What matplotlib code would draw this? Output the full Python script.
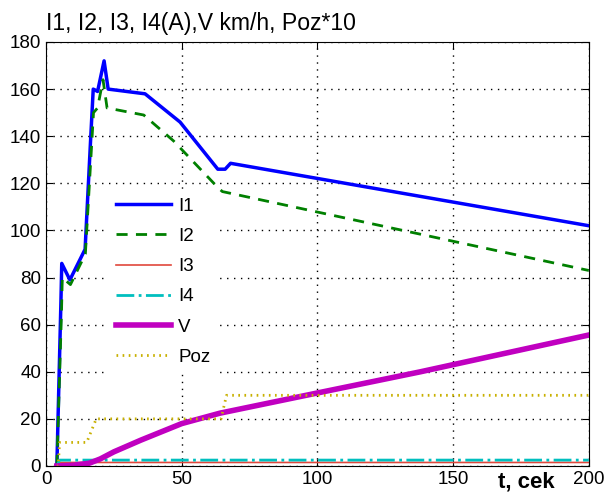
import matplotlib.pyplot as plt

plt.rcParams['font.family'] = ['Liberation Sans', 'DejaVu Sans']

# time points and values
t_i1 = [4.0, 5.5, 5.8, 8.8, 14.4, 16.5, 17.4, 19.0, 21.4, 22.9, 36.5, 49.4, 63.3, 66.0, 68.0, 200.0]
i1 = [0, 70, 86, 79, 92, 140, 160, 159, 172, 160, 158, 146, 126, 126, 128.5, 102]

t_i2 = [4.0, 5.7, 6.0, 9.0, 14.5, 17.5, 19.0, 21.0, 22.5, 36.0, 47.0, 63.5, 65.0, 200.0]
i2 = [0, 65, 80, 77, 90, 150, 152, 164, 152, 149, 138, 118, 116.5, 83]

t_i3 = [4.0, 5.0, 200.0]
i3 = [0, 1.5, 1.5]

t_i4 = [4.0, 5.0, 200.0]
i4 = [0, 2.5, 2.5]

t_v = [4.0, 10.0, 16.0, 20.0, 25.0, 35.0, 50.0, 64.0, 100.0, 138.0, 200.0]
v = [0, 0.3, 1.2, 3, 6, 11, 18, 22.4, 31, 40, 55.6]

t_poz = [4.0, 4.5, 5.0, 15.0, 18.5, 64.5, 66.5, 200.0]
poz = [0, 0, 10, 10, 20, 20, 30, 30]

fig = plt.figure(figsize=(6.07, 4.97), dpi=100)
ax = fig.add_axes([0.0758, 0.0624, 0.8942, 0.8531])

ax.plot(t_i1, i1, color='#0000ff', lw=2.5, label='I1')
ax.plot(t_i2, i2, color='#008000', lw=2, ls=(0, (4, 3)), label='I2')
ax.plot(t_i3, i3, color='#e0483c', lw=1.2, label='I3')
ax.plot(t_i4, i4, color='#00bfbf', lw=2, ls='-.', label='I4')
ax.plot(t_v, v, color='#c000c0', lw=4, label='V')
ax.plot(t_poz, poz, color='#c8b000', lw=2, ls=(0, (0.6, 1.6)), label='Poz')

ax.set_xlim(0, 200)
ax.set_ylim(0, 180)
ax.set_xticks(range(0, 201, 50))
ax.set_yticks(range(0, 181, 20))
ax.tick_params(direction='in', top=True, right=True, labelsize=13.5, length=5)
ax.grid(True, color='black', ls=(0, (1, 4)), lw=1)

leg = ax.legend(loc='upper left', bbox_to_anchor=(0.114, 0.653), borderaxespad=0,
                frameon=True, fancybox=False, facecolor='white', edgecolor='none',
                framealpha=1, fontsize=13.5, handlelength=2.9, labelspacing=0.7,
                handletextpad=0.4, borderpad=0.45)

fig.text(0.075, 0.94, 'I1, I2, I3, I4(A),V km/h, Poz*10', fontsize=16.6)
fig.text(0.867, 0.02, 't, cek', fontsize=16, fontweight='bold', ha='center')

plt.savefig('out.png', dpi=100)
